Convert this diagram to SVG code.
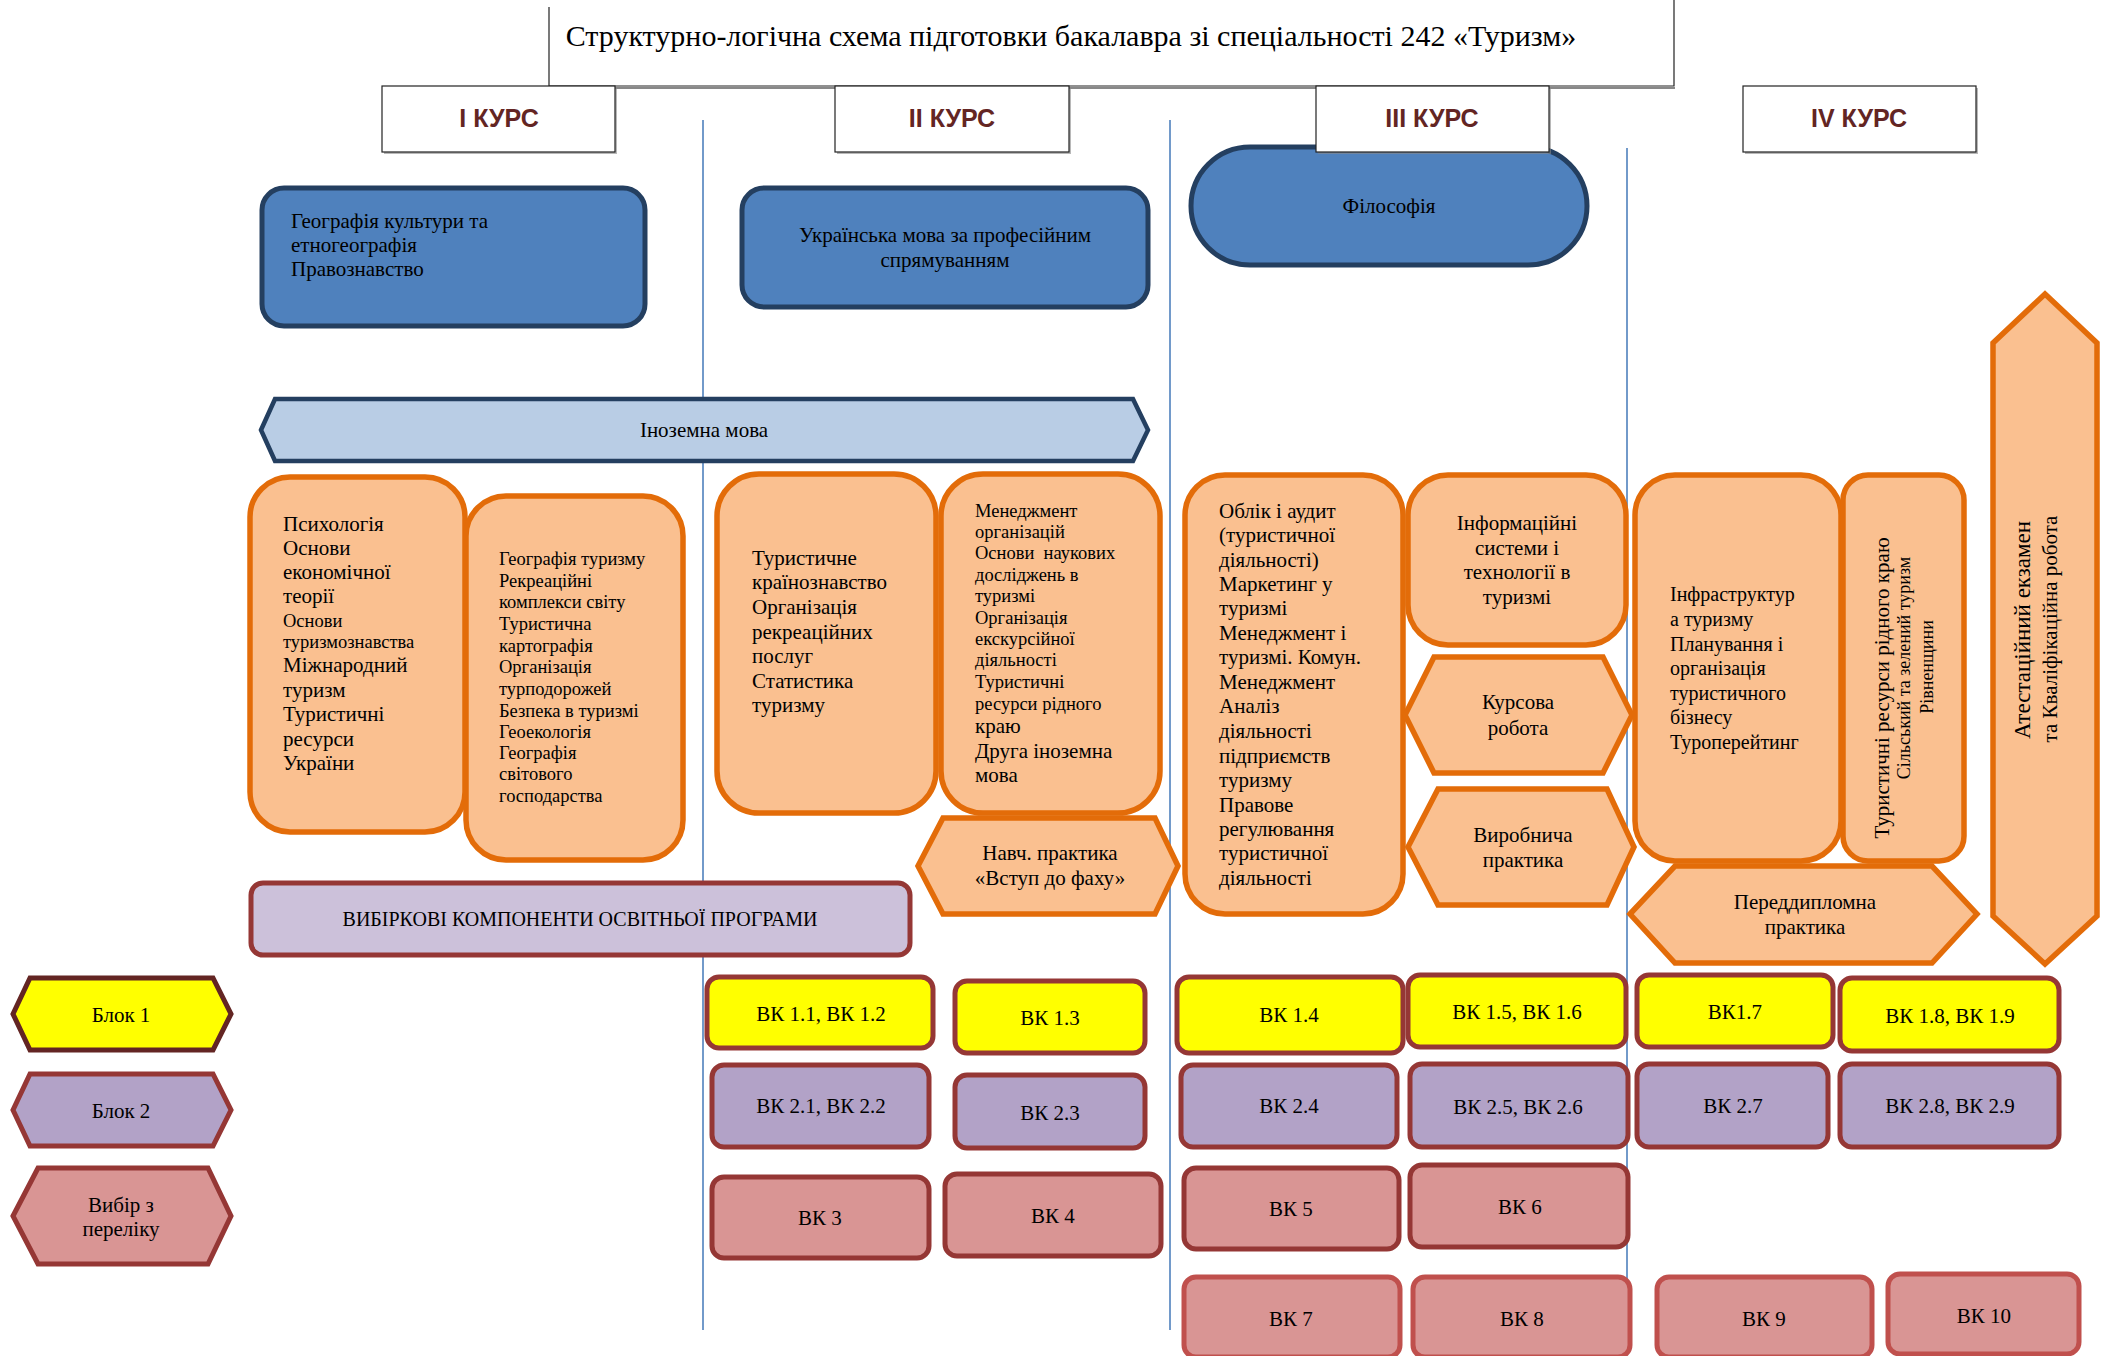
<svg xmlns="http://www.w3.org/2000/svg" width="2101" height="1356" viewBox="0 0 2101 1356">
<style>
text{font-family:"Liberation Serif","Times New Roman",serif;fill:#000}
.t21{font-size:21px}
.t18{font-size:18.5px}
.c{text-anchor:middle}
.course{font-family:"Liberation Sans",Arial,sans-serif;font-weight:bold;font-size:25px;fill:#632523;text-anchor:middle}
.cbox{fill:#fff;stroke:#222;stroke-width:1.2}
.shadow{fill:#888;opacity:0.6}
.vline{stroke:#4f81bd;stroke-width:1.6;fill:none}
.blue{fill:#4f81bd;stroke:#243f60;stroke-width:5}
.lblue{fill:#b9cde5;stroke:#243f60;stroke-width:4.5}
.orange{fill:#fac090;stroke:#e36c09;stroke-width:5.5}
.yel{fill:#ffff00;stroke:#953735;stroke-width:5}
.pur{fill:#b2a2c7;stroke:#953735;stroke-width:5}
.pink{fill:#d99594;stroke:#953735;stroke-width:5}
.pink2{fill:#d99594;stroke:#c0504d;stroke-width:5}
.lil{fill:#ccc1da;stroke:#953735;stroke-width:5}
</style>

<g id="connectors">
<line class="vline" x1="703" y1="120" x2="703" y2="1330"/>
<line class="vline" x1="1170" y1="120" x2="1170" y2="1330"/>
<line class="vline" x1="1627" y1="148" x2="1627" y2="1286"/>
</g>

<g id="title">
<path d="M549,7 V86 H1674 V0" fill="none" stroke="#222" stroke-width="1.2"/>
<line x1="549" y1="88" x2="1675" y2="88" stroke="#888" stroke-width="2"/>
<text x="1071" y="46" class="c" style="font-size:30px">Структурно-логічна схема підготовки бакалавра зі спеціальності 242 «Туризм»</text>
</g>

<g id="philosophy">
<rect class="blue" x="1191" y="147" width="396" height="118" rx="59"/>
<text class="t21 c" x="1389" y="213">Філософія</text>
</g>

<g id="course1">
<rect class="shadow" x="384" y="88" width="233" height="66"/>
<rect class="cbox" x="382" y="86" width="233" height="66"/>
<text class="course" x="499" y="127">І КУРС</text>
</g>
<g id="course2">
<rect class="shadow" x="837" y="88" width="234" height="66"/>
<rect class="cbox" x="835" y="86" width="234" height="66"/>
<text class="course" x="952" y="127">ІІ КУРС</text>
</g>
<g id="course3">
<rect class="shadow" x="1318" y="88" width="233" height="66"/>
<rect class="cbox" x="1316" y="86" width="233" height="66"/>
<text class="course" x="1432" y="127">ІІІ КУРС</text>
</g>
<g id="course4">
<rect class="shadow" x="1745" y="88" width="233" height="66"/>
<rect class="cbox" x="1743" y="86" width="233" height="66"/>
<text class="course" x="1859" y="127">IV КУРС</text>
</g>

<g id="geo-culture">
<rect class="blue" x="262" y="188" width="383" height="138" rx="22"/>
<text class="t21" x="291" y="228">Географія культури та</text>
<text class="t21" x="291" y="252">етногеографія</text>
<text class="t21" x="291" y="276">Правознавство</text>
</g>

<g id="ukr-lang">
<rect class="blue" x="742" y="188" width="406" height="119" rx="22"/>
<text class="t21 c" x="945" y="242">Українська мова за професійним</text>
<text class="t21 c" x="945" y="267">спрямуванням</text>
</g>

<g id="foreign-lang">
<path class="lblue" d="M261,430 L275,399 L1133,399 L1148,430 L1133,461 L275,461 Z"/>
<text class="t21 c" x="704" y="437">Іноземна мова</text>
</g>

<g id="box-psych">
<rect class="orange" x="250" y="477" width="215" height="355" rx="40"/>
<text class="t21" x="283" y="531">Психологія</text>
<text class="t21" x="283" y="555">Основи</text>
<text class="t21" x="283" y="579">економічної</text>
<text class="t21" x="283" y="603">теорії</text>
<text class="t18" x="283" y="627">Основи</text>
<text class="t18" x="283" y="648">туризмознавства</text>
<text class="t21" x="283" y="672">Міжнародний</text>
<text class="t21" x="283" y="697">туризм</text>
<text class="t21" x="283" y="721">Туристичні</text>
<text class="t21" x="283" y="746">ресурси</text>
<text class="t21" x="283" y="770">України</text>
</g>

<g id="box-geotour">
<rect class="orange" x="466" y="496" width="217" height="364" rx="40"/>
<text class="t18" x="499" y="565">Географія туризму</text>
<text class="t18" x="499" y="587">Рекреаційні</text>
<text class="t18" x="499" y="608">комплекси світу</text>
<text class="t18" x="499" y="630">Туристична</text>
<text class="t18" x="499" y="652">картографія</text>
<text class="t18" x="499" y="673">Організація</text>
<text class="t18" x="499" y="695">турподорожей</text>
<text class="t18" x="499" y="717">Безпека в туризмі</text>
<text class="t18" x="499" y="738">Геоекологія</text>
<text class="t18" x="499" y="759">Географія</text>
<text class="t18" x="499" y="780">світового</text>
<text class="t18" x="499" y="802">господарства</text>
</g>

<g id="box-country">
<rect class="orange" x="717" y="474" width="219" height="339" rx="42"/>
<text class="t21" x="752" y="565">Туристичне</text>
<text class="t21" x="752" y="589">країнознавство</text>
<text class="t21" x="752" y="614">Організація</text>
<text class="t21" x="752" y="639">рекреаційних</text>
<text class="t21" x="752" y="663">послуг</text>
<text class="t21" x="752" y="688">Статистика</text>
<text class="t21" x="752" y="712">туризму</text>
</g>

<g id="box-mgmt">
<rect class="orange" x="941" y="474" width="219" height="339" rx="42"/>
<text class="t18" x="975" y="517">Менеджмент</text>
<text class="t18" x="975" y="538">організацій</text>
<text class="t18" x="975" y="559" xml:space="preserve">Основи  наукових</text>
<text class="t18" x="975" y="581">досліджень в</text>
<text class="t18" x="975" y="602">туризмі</text>
<text class="t18" x="975" y="624">Організація</text>
<text class="t18" x="975" y="645">екскурсійної</text>
<text class="t18" x="975" y="666">діяльності</text>
<text class="t18" x="975" y="688">Туристичні</text>
<text class="t18" x="975" y="710">ресурси рідного</text>
<text class="t21" x="975" y="733">краю</text>
<text class="t21" x="975" y="758">Друга іноземна</text>
<text class="t21" x="975" y="782">мова</text>
</g>

<g id="practice-intro">
<path class="orange" d="M918,866 L943,818 L1155,818 L1178,866 L1155,914 L943,914 Z"/>
<text class="t21 c" x="1050" y="860">Навч. практика</text>
<text class="t21 c" x="1050" y="885">«Вступ до фаху»</text>
</g>

<g id="elective-title">
<rect class="lil" x="251" y="883" width="659" height="72" rx="12"/>
<text class="c" style="font-size:20px" x="580" y="926">ВИБІРКОВІ КОМПОНЕНТИ ОСВІТНЬОЇ ПРОГРАМИ</text>
</g>

<g id="box-audit">
<rect class="orange" x="1185" y="475" width="218" height="439" rx="40"/>
<text class="t21" x="1219" y="518">Облік і аудит</text>
<text class="t21" x="1219" y="542">(туристичної</text>
<text class="t21" x="1219" y="567">діяльності)</text>
<text class="t21" x="1219" y="591">Маркетинг у</text>
<text class="t21" x="1219" y="615">туризмі</text>
<text class="t21" x="1219" y="640">Менеджмент і</text>
<text class="t21" x="1219" y="664">туризмі. Комун.</text>
<text class="t21" x="1219" y="689">Менеджмент</text>
<text class="t21" x="1219" y="713">Аналіз</text>
<text class="t21" x="1219" y="738">діяльності</text>
<text class="t21" x="1219" y="763">підприємств</text>
<text class="t21" x="1219" y="787">туризму</text>
<text class="t21" x="1219" y="812">Правове</text>
<text class="t21" x="1219" y="836">регулювання</text>
<text class="t21" x="1219" y="860">туристичної</text>
<text class="t21" x="1219" y="885">діяльності</text>
</g>

<g id="box-infosys">
<rect class="orange" x="1408" y="475" width="218" height="170" rx="40"/>
<text class="t21 c" x="1517" y="530">Інформаційні</text>
<text class="t21 c" x="1517" y="555">системи і</text>
<text class="t21 c" x="1517" y="579">технології в</text>
<text class="t21 c" x="1517" y="604">туризмі</text>
</g>

<g id="coursework">
<path class="orange" d="M1405,715 L1434,657 L1603,657 L1632,715 L1603,773 L1434,773 Z"/>
<text class="t21 c" x="1518" y="709">Курсова</text>
<text class="t21 c" x="1518" y="735">робота</text>
</g>

<g id="practice-prod">
<path class="orange" d="M1408,847 L1438,789 L1607,789 L1634,847 L1607,905 L1438,905 Z"/>
<text class="t21 c" x="1523" y="842">Виробнича</text>
<text class="t21 c" x="1523" y="867">практика</text>
</g>

<g id="box-infra">
<rect class="orange" x="1635" y="475" width="206" height="386" rx="40"/>
<text x="1670" y="601" style="font-size:20px">Інфраструктур</text>
<text x="1670" y="626" style="font-size:20px">а туризму</text>
<text x="1670" y="651" style="font-size:20px">Планування і</text>
<text x="1670" y="675" style="font-size:20px">організація</text>
<text x="1670" y="700" style="font-size:20px">туристичного</text>
<text x="1670" y="724" style="font-size:20px">бізнесу</text>
<text x="1670" y="749" style="font-size:20px">Туроперейтинг</text>
</g>

<g id="box-native">
<rect class="orange" x="1843" y="475" width="121" height="386" rx="25"/>
<text class="t21 c" transform="translate(1889,688) rotate(-90)">Туристичні ресурси рідного краю</text>
<text class="c" style="font-size:18px" transform="translate(1910,668) rotate(-90)">Сільський та зелений туризм</text>
<text class="c" style="font-size:18px" transform="translate(1933,667) rotate(-90)">Рівненщини</text>
</g>

<g id="practice-prediploma">
<path class="orange" d="M1630,914 L1675,866 L1932,866 L1977,914 L1932,963 L1675,963 Z"/>
<text class="t21 c" x="1805" y="909">Переддипломна</text>
<text class="t21 c" x="1805" y="934">практика</text>
</g>

<g id="attestation">
<path class="orange" d="M2045,294 L2097,343 L2097,916 L2045,964 L1993,916 L1993,343 Z"/>
<text class="c" style="font-size:23px" transform="translate(2030,630) rotate(-90)">Атестаційний екзамен</text>
<text class="t21 c" transform="translate(2057,629) rotate(-90)">та Кваліфікаційна робота</text>
</g>

<g id="legend-block1">
<path d="M13,1014 L30,978 L213,978 L231,1014 L213,1050 L30,1050 Z" fill="#ffff00" stroke="#632523" stroke-width="5"/>
<text class="t21 c" x="121" y="1022">Блок 1</text>
</g>
<g id="legend-block2">
<path class="pur" d="M13,1110 L30,1074 L213,1074 L231,1110 L213,1146 L30,1146 Z"/>
<text class="t21 c" x="121" y="1118">Блок 2</text>
</g>
<g id="legend-choice">
<path class="pink" d="M13,1216 L38,1168 L208,1168 L231,1216 L208,1264 L38,1264 Z"/>
<text class="t21 c" x="121" y="1212">Вибір з</text>
<text class="t21 c" x="121" y="1236">переліку</text>
</g>

<g id="vk11"><rect class="yel" x="707" y="977" width="226" height="71" rx="12"/><text class="t21 c" x="821" y="1021">ВК 1.1, ВК 1.2</text></g>
<g id="vk13"><rect class="yel" x="955" y="981" width="190" height="72" rx="12"/><text class="t21 c" x="1050" y="1025">ВК 1.3</text></g>
<g id="vk14"><rect class="yel" x="1177" y="977" width="226" height="76" rx="12"/><text class="t21 c" x="1289" y="1022">ВК 1.4</text></g>
<g id="vk15"><rect class="yel" x="1408" y="975" width="218" height="72" rx="12"/><text class="t21 c" x="1517" y="1019">ВК 1.5, ВК 1.6</text></g>
<g id="vk17"><rect class="yel" x="1637" y="975" width="196" height="72" rx="12"/><text class="t21 c" x="1735" y="1019">ВК1.7</text></g>
<g id="vk18"><rect class="yel" x="1840" y="978" width="219" height="73" rx="12"/><text class="t21 c" x="1950" y="1023">ВК 1.8, ВК 1.9</text></g>

<g id="vk21"><rect class="pur" x="712" y="1065" width="217" height="82" rx="12"/><text class="t21 c" x="821" y="1113">ВК 2.1, ВК 2.2</text></g>
<g id="vk23"><rect class="pur" x="955" y="1075" width="190" height="73" rx="12"/><text class="t21 c" x="1050" y="1120">ВК 2.3</text></g>
<g id="vk24"><rect class="pur" x="1181" y="1065" width="216" height="82" rx="12"/><text class="t21 c" x="1289" y="1113">ВК 2.4</text></g>
<g id="vk25"><rect class="pur" x="1410" y="1064" width="218" height="83" rx="12"/><text class="t21 c" x="1518" y="1114">ВК 2.5, ВК 2.6</text></g>
<g id="vk27"><rect class="pur" x="1637" y="1064" width="191" height="83" rx="12"/><text class="t21 c" x="1733" y="1113">ВК 2.7</text></g>
<g id="vk28"><rect class="pur" x="1840" y="1064" width="219" height="83" rx="12"/><text class="t21 c" x="1950" y="1113">ВК 2.8, ВК 2.9</text></g>

<g id="vk3"><rect class="pink" x="712" y="1177" width="217" height="81" rx="12"/><text class="t21 c" x="820" y="1225">ВК 3</text></g>
<g id="vk4"><rect class="pink" x="945" y="1174" width="216" height="82" rx="12"/><text class="t21 c" x="1053" y="1223">ВК 4</text></g>
<g id="vk5"><rect class="pink" x="1184" y="1168" width="215" height="81" rx="12"/><text class="t21 c" x="1291" y="1216">ВК 5</text></g>
<g id="vk6"><rect class="pink" x="1410" y="1165" width="218" height="82" rx="12"/><text class="t21 c" x="1520" y="1214">ВК 6</text></g>

<g id="vk7"><rect class="pink2" x="1184" y="1277" width="216" height="80" rx="12"/><text class="t21 c" x="1291" y="1326">ВК 7</text></g>
<g id="vk8"><rect class="pink2" x="1413" y="1277" width="217" height="80" rx="12"/><text class="t21 c" x="1522" y="1326">ВК 8</text></g>
<g id="vk9"><rect class="pink2" x="1657" y="1277" width="215" height="80" rx="12"/><text class="t21 c" x="1764" y="1326">ВК 9</text></g>
<g id="vk10"><rect class="pink2" x="1888" y="1274" width="191" height="80" rx="12"/><text class="t21 c" x="1984" y="1323">ВК 10</text></g>
</svg>
